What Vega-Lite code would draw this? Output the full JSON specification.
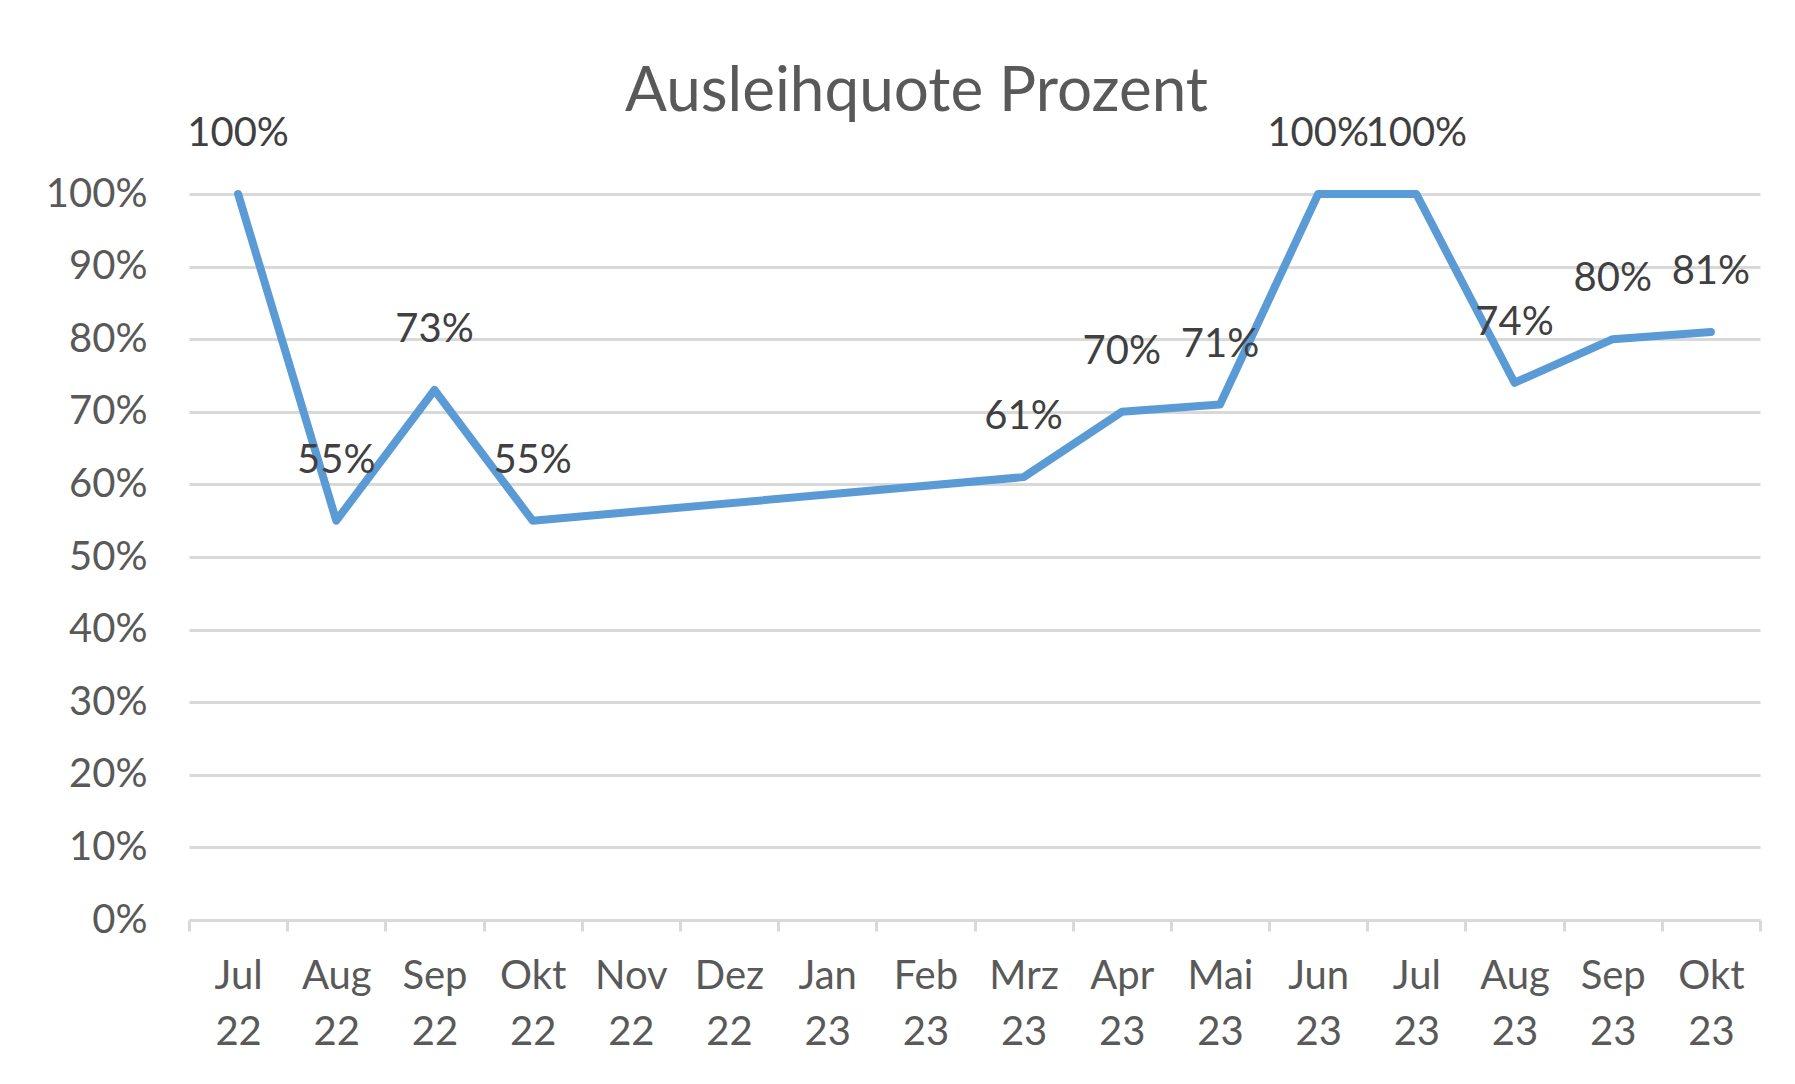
{
  "$schema": "https://vega.github.io/schema/vega-lite/v6.json",
  "width": 1571,
  "height": 726,
  "autosize": {"type": "none"},
  "padding": {"left": 189, "top": 194, "right": 35, "bottom": 164},
  "background": "white",
  "config": {
    "view": {"stroke": null},
    "font": "Lato"
  },
  "title": {
    "text": "Ausleihquote Prozent",
    "font": "Lato",
    "fontSize": 62,
    "fontWeight": "normal",
    "color": "#595959",
    "anchor": "middle",
    "baseline": "alphabetic",
    "dx": -58,
    "offset": -59
  },
  "data": {
    "values": [
      {"month": "Jul 22", "value": 1.00},
      {"month": "Aug 22", "value": 0.55},
      {"month": "Sep 22", "value": 0.73},
      {"month": "Okt 22", "value": 0.55},
      {"month": "Mrz 23", "value": 0.61},
      {"month": "Apr 23", "value": 0.70},
      {"month": "Mai 23", "value": 0.71},
      {"month": "Jun 23", "value": 1.00},
      {"month": "Jul 23", "value": 1.00},
      {"month": "Aug 23", "value": 0.74},
      {"month": "Sep 23", "value": 0.80},
      {"month": "Okt 23", "value": 0.81}
    ]
  },
  "encoding": {
    "x": {
      "field": "month",
      "type": "ordinal",
      "sort": null,
      "scale": {
        "type": "band",
        "paddingInner": 0,
        "paddingOuter": 0,
        "domain": ["Jul 22", "Aug 22", "Sep 22", "Okt 22", "Nov 22", "Dez 22", "Jan 23", "Feb 23", "Mrz 23", "Apr 23", "Mai 23", "Jun 23", "Jul 23", "Aug 23", "Sep 23", "Okt 23"]
      },
      "axis": {
        "title": null,
        "labelAngle": 0,
        "labelExpr": "split(datum.label, ' ')",
        "labelFont": "Lato",
        "labelFontSize": 40,
        "labelColor": "#595959",
        "labelLineHeight": 56,
        "labelPadding": 25,
        "domainColor": "#d9d9d9",
        "domainWidth": 3,
        "tickColor": "#d9d9d9",
        "tickWidth": 3,
        "tickSize": 11,
        "tickBand": "extent",
        "grid": false
      }
    },
    "y": {
      "field": "value",
      "type": "quantitative",
      "scale": {"domain": [0, 1], "nice": false, "zero": true},
      "axis": {
        "title": null,
        "values": [0, 0.1, 0.2, 0.3, 0.4, 0.5, 0.6, 0.7, 0.8, 0.9, 1.0],
        "format": ".0%",
        "labelFont": "Lato",
        "labelFontSize": 40,
        "labelColor": "#595959",
        "labelPadding": 42,
        "domain": false,
        "ticks": false,
        "grid": true,
        "gridColor": "#d9d9d9",
        "gridWidth": 3
      }
    }
  },
  "layer": [
    {
      "mark": {"type": "line", "color": "#5b9bd5", "strokeWidth": 8, "strokeCap": "round", "strokeJoin": "round"}
    },
    {
      "mark": {"type": "text", "font": "Lato", "fontSize": 40, "color": "#404040", "baseline": "middle", "align": "center", "dy": -60},
      "encoding": {
        "text": {"field": "value", "type": "quantitative", "format": ".0%"}
      }
    }
  ]
}
